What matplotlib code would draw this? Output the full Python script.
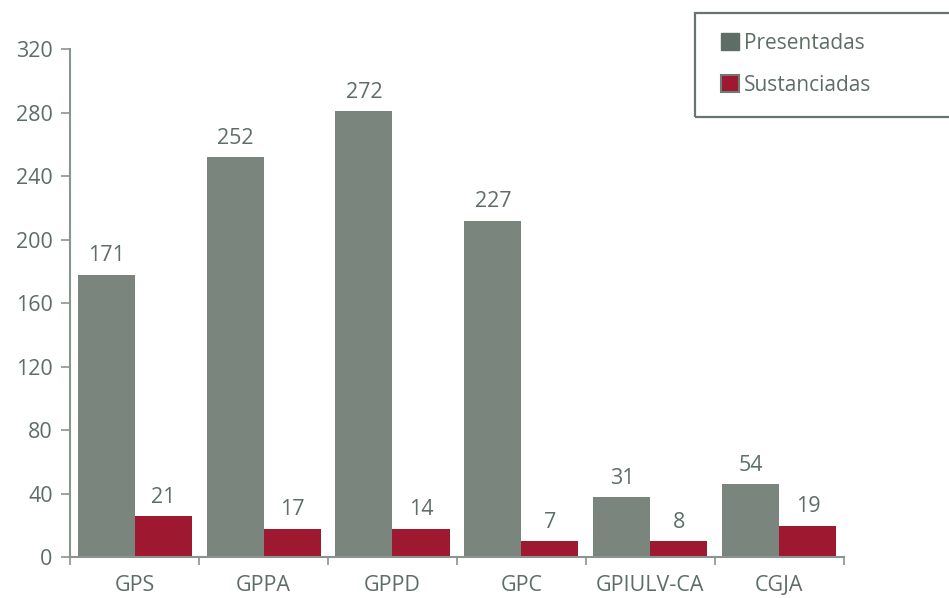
import matplotlib
matplotlib.use("Agg")
import matplotlib.pyplot as plt
from matplotlib.patches import Rectangle, Patch
import numpy as np

categories = ["GPS", "GPPA", "GPPD", "GPC", "GPIULV-CA", "CGJA"]
# bar heights as drawn in the reference
presentadas = [178, 252, 281, 212, 38, 46]
sustanciadas = [26, 18, 18, 10, 10, 20]
# value labels as printed in the reference
presentadas_labels = ["171", "252", "272", "227", "31", "54"]
sustanciadas_labels = ["21", "17", "14", "7", "8", "19"]
yticks = [0, 40, 80, 120, 160, 200, 240, 280, 320]

GRAY = "#79857D"
RED = "#9E1830"
TEXT = "#5E6E66"
AXIS = "#8A948F"

plt.rcParams["font.family"] = ["Open Sans", "DejaVu Sans"]

fig = plt.figure(figsize=(9.49, 5.98), dpi=100)
ax = fig.add_axes([0.0738, 0.068, 0.8155, 0.8495])

x = np.arange(len(categories))
w = 0.442
b1 = ax.bar(x - w / 2, presentadas, width=w, color=GRAY, label="Presentadas")
b2 = ax.bar(x + w / 2, sustanciadas, width=w, color=RED, label="Sustanciadas")

for bars, labs in ((b1, presentadas_labels), (b2, sustanciadas_labels)):
    for r, t in zip(bars, labs):
        ax.annotate(t, (r.get_x() + r.get_width() / 2, r.get_height()),
                    xytext=(0, 6), textcoords="offset points",
                    ha="center", va="bottom", fontsize=15.5, color=TEXT)

ax.set_xlim(-0.5, len(categories) - 0.5)
ax.set_ylim(0, 320)
ax.set_yticks(yticks)
ax.set_yticklabels([str(v) for v in yticks])
ax.set_xticks(x)
ax.set_xticklabels(categories)
ax.set_xticks(np.arange(len(categories) + 1) - 0.5, minor=True)

ax.tick_params(axis="y", direction="out", length=6.5, width=1.2, color=AXIS,
               labelsize=15.5, labelcolor=TEXT, pad=6)
ax.tick_params(axis="x", which="major", length=0, labelsize=15.5,
               labelcolor=TEXT, pad=13)
ax.tick_params(axis="x", which="minor", direction="out", length=5.5,
               width=1.2, color=AXIS)

for s in ("top", "right"):
    ax.spines[s].set_visible(False)
for s in ("left", "bottom"):
    ax.spines[s].set_color(AXIS)
    ax.spines[s].set_linewidth(1.5)

# legend frame
fig.patches.append(Rectangle((695 / 949, 1 - 116.7 / 598), 0.5, (116.7 - 12.7) / 598,
                             transform=fig.transFigure, fill=False,
                             edgecolor="#66756D", linewidth=1.6, zorder=5))
handles = [Patch(facecolor="#5E6E66", edgecolor="#5E6E66", label="Presentadas"),
           Patch(facecolor=RED, edgecolor="#6E7A73", linewidth=1.5, label="Sustanciadas")]
leg = fig.legend(handles=handles, loc="upper left",
                 bbox_to_anchor=(721 / 949, 1 - 33 / 598), frameon=False,
                 fontsize=15, labelcolor=TEXT, handlelength=0.85,
                 handleheight=0.9, handletextpad=0.25, labelspacing=1.0,
                 borderpad=0, borderaxespad=0)

fig.savefig("out.png", dpi=100)
